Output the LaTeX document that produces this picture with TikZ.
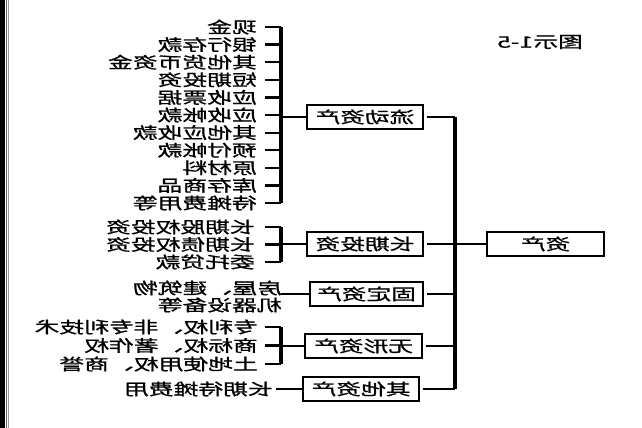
\documentclass[tikz,border=0pt]{standalone}
\usepackage{fontspec}
\usepackage{graphicx}
\newfontfamily\cjk[FakeBold=0.8]{Noto Sans CJK SC}
\newcommand\mt[1]{\scalebox{-1.55}[1]{\cjk\fontsize{16}{16}\selectfont #1}}
\begin{document}
\begin{tikzpicture}[x=1pt,y=-1pt,
  box/.style={draw, line width=1.3pt, minimum height=24pt, inner sep=0pt},
  item/.style={anchor=east, inner sep=0pt},
  vbar/.style={line width=3.2pt},
  tick/.style={line width=2.2pt},
  link/.style={line width=1.9pt}]
\useasboundingbox (0,0) rectangle (642,428);
% frame at the left edge
\fill (0,0) rectangle (4.5,428);
\draw[line width=0.9pt, black!60] (6.5,0) -- (6.5,428);
\draw[line width=0.7pt, black!40] (8.7,0) -- (8.7,428);
% guide coordinates
\coordinate (b1) at (281,0);
\coordinate (m) at (455,0);
% title
\node (title) at (540,42) {\mt{图示1-5}};
% boxes
\node[box, minimum width=116pt] (ca) at (365,117) {\mt{流动资产}};
\node[box, minimum width=116pt] (li) at (365,244) {\mt{长期投资}};
\node[box, minimum width=113pt] (fi) at (366.5,294) {\mt{固定资产}};
\node[box, minimum width=117pt] (wi) at (363.5,346) {\mt{无形资产}};
\node[box, minimum width=116pt] (oa) at (361,389) {\mt{其他资产}};
\node[box, minimum width=117pt] (as) at (545.5,244) {\mt{资产}};
% current assets items
\foreach \t [count=\i from 0] in {现金,银行存款,其他货币资金,短期投资,应收票据,应收帐款,其他应收款,预付帐款,原材料,库存商品,待摊费用等}{
  \node[item] (c\i) at (257,27+17.6*\i) {\mt{\t}};
  \draw[tick] ([xshift=8pt]c\i.east) -- (c\i.east -| b1);
}
\draw[vbar] (c0.east -| b1) -- (c10.east -| b1);
\draw[link] (ca.west -| b1) -- (ca.west);
% long-term investment items
\foreach \t [count=\i from 0] in {长期股权投资,长期债权投资,委托贷款}{
  \node[item] (l\i) at (255,227+17.5*\i) {\mt{\t}};
  \draw[tick] ([xshift=10pt]l\i.east) -- (l\i.east -| b1);
}
\draw[vbar] (l0.east -| b1) -- (l2.east -| b1);
\draw[link] (li.west -| b1) -- (li.west);
% fixed assets items
\node[item] (f0) at (282,288) {\mt{房屋、建筑物}};
\node[item] (f1) at (282,305) {\mt{机器设备等}};
\draw[link] (fi.west -| b1) -- (fi.west);
% intangible assets items
\foreach \t [count=\i from 0] in {专利权、非专利技术,商标权、著作权,土地使用权、商誉}{
  \node[item] (w\i) at (258,327+18.5*\i) {\mt{\t}};
  \draw[tick] ([xshift=7pt]w\i.east) -- (w\i.east -| b1);
}
\draw[vbar] (w0.east -| b1) -- (w2.east -| b1);
\draw[link] (wi.west -| b1) -- (wi.west);
% other assets item
\node[item] (o0) at (273,389) {\mt{长期待摊费用}};
\draw[link] ([xshift=3pt]o0.east) -- (oa.west);
% main trunk
\draw[vbar] (ca.east -| m) -- (oa.east -| m);
\foreach \b in {ca,li,fi,wi,oa}{
  \draw[link] ([xshift=3pt]\b.east) -- (\b.east -| m);
}
\draw[link] (li.east -| m) -- (as.west);
\end{tikzpicture}
\end{document}
